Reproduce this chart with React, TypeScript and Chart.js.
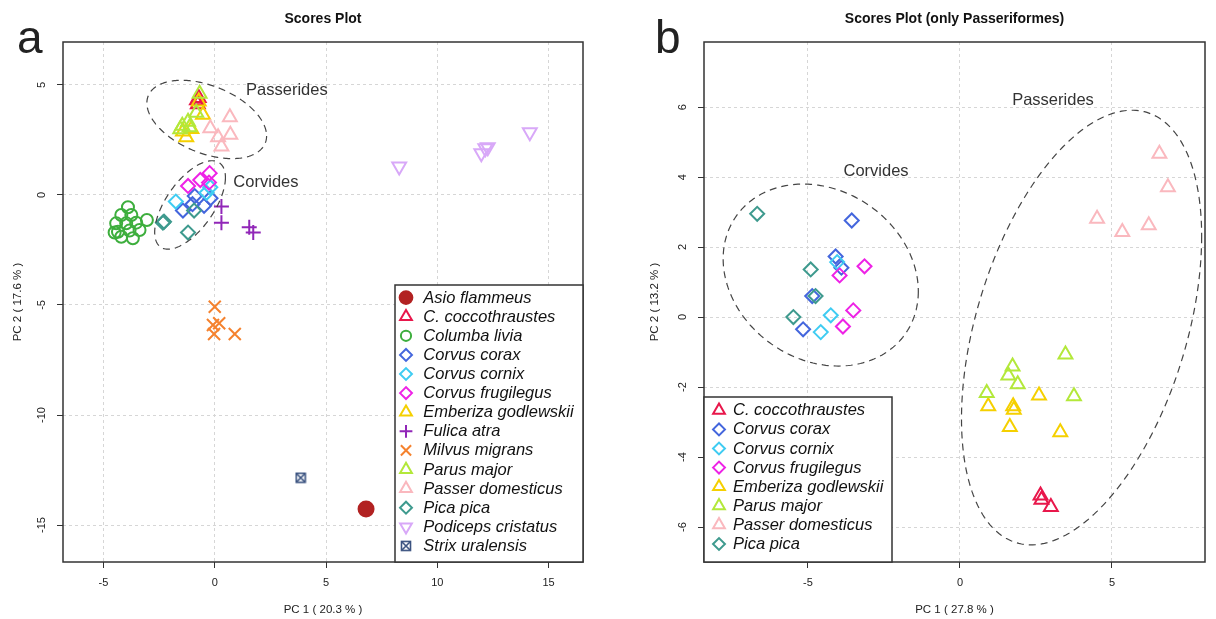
import React, { useEffect, useRef } from 'react';
import { Chart, registerables } from 'chart.js';
import { drawPoint } from 'chart.js/helpers';

Chart.register(...registerables);

const FONT = '"Liberation Sans", Arial, Helvetica, sans-serif';

type Pt = [number, number];

// ---------------- Panel a : all species ----------------
const A_X_TICKS = [-5, 0, 5, 10, 15];
const A_Y_TICKS = [-15, -10, -5, 0, 5];

const A_ASIO: Pt[] = [[6.8, -14.27]];
const A_COCCO: Pt[] = [[-0.8, 4.3], [-0.76, 4.12], [-0.72, 4.4]];
const A_COLUMBA: Pt[] = [
  [-3.9, -0.56], [-4.2, -0.91], [-3.75, -0.91], [-4.43, -1.29], [-3.98, -1.29],
  [-3.53, -1.26], [-3.05, -1.14], [-4.35, -1.67], [-3.83, -1.62], [-3.38, -1.59],
  [-4.2, -1.9], [-3.68, -1.97], [-4.5, -1.71],
];
const A_CORAX: Pt[] = [[-1.43, -0.71], [-0.9, -0.05], [-0.48, -0.49], [-0.19, -0.15], [-1.0, -0.42]];
const A_CORNIX: Pt[] = [[-1.75, -0.3], [-0.37, 0.1], [-0.2, 0.35]];
const A_FRUGI: Pt[] = [[-0.23, 0.99], [-0.26, 0.56], [-0.65, 0.68], [-1.2, 0.41]];
const A_EMBERIZA: Pt[] = [[-0.53, 3.64], [-1.43, 2.88], [-1.28, 2.62], [-0.72, 4.25], [-1.05, 3.0]];
const A_FULICA: Pt[] = [[0.3, -0.53], [0.3, -1.26], [1.55, -1.47], [1.73, -1.71]];
const A_MILVUS: Pt[] = [[0.0, -5.08], [-0.08, -5.91], [0.2, -5.83], [-0.03, -6.32], [0.9, -6.32]];
const A_PARUS: Pt[] = [[-0.68, 4.6], [-0.83, 3.74], [-1.2, 3.33], [-1.46, 3.14], [-1.55, 2.98], [-1.13, 3.08]];
const A_PASSER: Pt[] = [[0.68, 3.53], [-0.2, 3.03], [0.7, 2.73], [0.15, 2.62], [0.3, 2.2]];
const A_PICA: Pt[] = [[-2.33, -1.26], [-2.28, -1.22], [-0.93, -0.71], [-1.2, -1.71]];
const A_PODICEPS: Pt[] = [[8.29, 1.29], [11.98, 1.89], [12.16, 2.12], [12.27, 2.17], [14.16, 2.85]];
const A_STRIX: Pt[] = [[3.86, -12.85]];

// ---------------- Panel b : only Passeriformes ----------------
const B_X_TICKS = [-5, 0, 5];
const B_Y_TICKS = [-6, -4, -2, 0, 2, 4, 6];

const B_COCCO: Pt[] = [[2.65, -5.1], [2.68, -5.22], [2.99, -5.43]];
const B_CORAX: Pt[] = [[-3.56, 2.76], [-4.09, 1.73], [-3.9, 1.41], [-4.86, 0.6], [-5.16, -0.35]];
const B_CORNIX: Pt[] = [[-4.04, 1.57], [-4.25, 0.05], [-4.58, -0.43]];
const B_FRUGI: Pt[] = [[-3.14, 1.45], [-3.96, 1.19], [-3.51, 0.19], [-3.85, -0.27]];
const B_EMBERIZA: Pt[] = [[0.93, -2.55], [1.75, -2.55], [1.77, -2.65], [2.6, -2.24], [1.64, -3.14], [3.3, -3.29]];
const B_PARUS: Pt[] = [[3.47, -1.07], [1.73, -1.41], [1.59, -1.67], [1.9, -1.92], [0.88, -2.17], [3.75, -2.26]];
const B_PASSER: Pt[] = [[6.56, 4.67], [6.84, 3.71], [4.51, 2.81], [5.34, 2.43], [6.21, 2.62]];
const B_PICA: Pt[] = [[-6.67, 2.95], [-4.91, 1.36], [-4.75, 0.6], [-5.48, 0.0]];

// ---------------- styles ----------------
type Sty = { color: string; shape: string; r: number; fill?: boolean; rot?: number };
const STYLE: Record<string, Sty> = {
  'Asio flammeus': { color: '#B22222', shape: 'circle', r: 7.5, fill: true },
  'C. coccothraustes': { color: '#E8174B', shape: 'triangle', r: 8 },
  'Columba livia': { color: '#3DAE3D', shape: 'circle', r: 6 },
  'Corvus corax': { color: '#4466DD', shape: 'rectRot', r: 7 },
  'Corvus cornix': { color: '#3FCCF2', shape: 'rectRot', r: 7 },
  'Corvus frugilegus': { color: '#EE22E6', shape: 'rectRot', r: 7 },
  'Emberiza godlewskii': { color: '#F5D000', shape: 'triangle', r: 8 },
  'Fulica atra': { color: '#9126B8', shape: 'cross', r: 7.5 },
  'Milvus migrans': { color: '#F5822E', shape: 'crossRot', r: 8.5 },
  'Parus major': { color: '#B3E83A', shape: 'triangle', r: 8 },
  'Passer domesticus': { color: '#FAB8BE', shape: 'triangle', r: 8 },
  'Pica pica': { color: '#3E9A8E', shape: 'rectRot', r: 7 },
  'Podiceps cristatus': { color: '#D8A8F8', shape: 'triangle', r: 8, rot: 180 },
  'Strix uralensis': { color: '#3B5380', shape: 'strix', r: 6 },
};

let strixImg: HTMLCanvasElement | null = null;
function getStrix() {
  if (strixImg) return strixImg;
  const c = document.createElement('canvas');
  c.width = 12; c.height = 12;
  const g = c.getContext('2d')!;
  g.strokeStyle = STYLE['Strix uralensis'].color;
  g.lineWidth = 1.6;
  g.strokeRect(1.5, 1.5, 9, 9);
  g.beginPath();
  g.moveTo(1.5, 1.5); g.lineTo(10.5, 10.5);
  g.moveTo(10.5, 1.5); g.lineTo(1.5, 10.5);
  g.stroke();
  strixImg = c;
  return c;
}

type Ell = { cx: number; ax: number; cy: number; ay: number; c: number };
type Lab = { text: string; x: number; y: number };

type PanelCfg = {
  series: [string, Pt[]][];
  xTicks: number[]; yTicks: number[];
  xMin: number; xMax: number; yMin: number; yMax: number;
  axisLeft: number; padRight: number;
  title: string; letter: string; letterX: number;
  xTitle: string; yTitle: string; yTitleOff: number;
  ellipses: Ell[]; labels: Lab[];
  legend: { corner: 'br' | 'bl'; w: number; h: number; first: number; symX: number; textX: number };
};

const PANEL_A: PanelCfg = {
  series: [
    ['Asio flammeus', A_ASIO], ['C. coccothraustes', A_COCCO], ['Columba livia', A_COLUMBA],
    ['Corvus corax', A_CORAX], ['Corvus cornix', A_CORNIX], ['Corvus frugilegus', A_FRUGI],
    ['Emberiza godlewskii', A_EMBERIZA], ['Fulica atra', A_FULICA], ['Milvus migrans', A_MILVUS],
    ['Parus major', A_PARUS], ['Passer domesticus', A_PASSER], ['Pica pica', A_PICA],
    ['Podiceps cristatus', A_PODICEPS], ['Strix uralensis', A_STRIX],
  ],
  xTicks: A_X_TICKS, yTicks: A_Y_TICKS,
  xMin: -6.82, xMax: 16.55, yMin: -16.68, yMax: 6.95,
  axisLeft: 63, padRight: 25,
  title: 'Scores Plot', letter: 'a', letterX: 17,
  xTitle: 'PC 1 ( 20.3 % )', yTitle: 'PC 2 ( 17.6 % )', yTitleOff: 45,
  ellipses: [
    { cx: -0.36, ax: 2.69, cy: 3.43, ay: 1.78, c: -0.42 },
    { cx: -1.11, ax: 1.59, cy: -0.455, ay: 2.01, c: 0.62 },
  ],
  labels: [
    { text: 'Passerides', x: 3.24, y: 4.73 },
    { text: 'Corvides', x: 2.3, y: 0.55 },
  ],
  legend: { corner: 'br', w: 188, h: 277, first: 12.6, symX: 11, textX: 28.3 },
};

const PANEL_B: PanelCfg = {
  series: [
    ['C. coccothraustes', B_COCCO], ['Corvus corax', B_CORAX], ['Corvus cornix', B_CORNIX],
    ['Corvus frugilegus', B_FRUGI], ['Emberiza godlewskii', B_EMBERIZA], ['Parus major', B_PARUS],
    ['Passer domesticus', B_PASSER], ['Pica pica', B_PICA],
  ],
  xTicks: B_X_TICKS, yTicks: B_Y_TICKS,
  xMin: -8.42, xMax: 8.06, yMin: -7.0, yMax: 7.86,
  axisLeft: 96, padRight: 11,
  title: 'Scores Plot (only Passeriformes)', letter: 'b', letterX: 47,
  xTitle: 'PC 1 ( 27.8 % )', yTitle: 'PC 2 ( 13.2 % )', yTitleOff: 49,
  ellipses: [
    { cx: -4.58, ax: 3.21, cy: 1.2, ay: 2.6, c: -0.18 },
    { cx: 4.0, ax: 3.95, cy: -0.3, ay: 6.21, c: 0.42 },
  ],
  labels: [
    { text: 'Passerides', x: 3.06, y: 6.2 },
    { text: 'Corvides', x: -2.76, y: 4.17 },
  ],
  legend: { corner: 'bl', w: 188, h: 165, first: 13.3, symX: 15, textX: 29 },
};

function makeOverlay(cfg: PanelCfg) {
  return {
    id: 'overlay',
    afterDatasetsDraw(chart: any) {
      const ctx: CanvasRenderingContext2D = chart.ctx;
      const { left, right, top, bottom } = chart.chartArea;
      const xs = chart.scales.x;
      const ys = chart.scales.y;
      ctx.save();
      // group ellipses
      ctx.setLineDash([7, 5]);
      ctx.lineWidth = 1.2;
      ctx.strokeStyle = '#444';
      for (const e of cfg.ellipses) {
        const phi = Math.acos(e.c);
        ctx.beginPath();
        for (let i = 0; i <= 240; i++) {
          const t = (i / 240) * 2 * Math.PI;
          const px = xs.getPixelForValue(e.cx + e.ax * Math.cos(t));
          const py = ys.getPixelForValue(e.cy + e.ay * Math.cos(t + phi));
          if (i === 0) ctx.moveTo(px, py); else ctx.lineTo(px, py);
        }
        ctx.closePath();
        ctx.stroke();
      }
      ctx.setLineDash([]);
      // group labels
      ctx.font = `16.5px ${FONT}`;
      ctx.fillStyle = '#333';
      ctx.textAlign = 'center';
      ctx.textBaseline = 'middle';
      for (const l of cfg.labels) {
        ctx.fillText(l.text, xs.getPixelForValue(l.x), ys.getPixelForValue(l.y));
      }
      // plot box
      ctx.lineWidth = 1.5;
      ctx.strokeStyle = '#333';
      ctx.strokeRect(left, top, right - left, bottom - top);
      // legend
      const L = cfg.legend;
      const x0 = L.corner === 'br' ? right - L.w : left;
      const y0 = bottom - L.h;
      ctx.fillStyle = '#fff';
      ctx.fillRect(x0, y0, L.w, L.h);
      ctx.strokeRect(x0, y0, L.w, L.h);
      ctx.font = `italic 16.5px ${FONT}`;
      ctx.textAlign = 'left';
      cfg.series.forEach(([name], i) => {
        const s = STYLE[name];
        const cy = y0 + L.first + i * 19.1;
        const cx = x0 + L.symX;
        ctx.save();
        ctx.strokeStyle = s.color;
        ctx.fillStyle = s.fill ? s.color : 'rgba(0,0,0,0)';
        ctx.lineWidth = 2;
        drawPoint(ctx, {
          pointStyle: s.shape === 'strix' ? getStrix() : s.shape,
          radius: s.r * 0.85,
          rotation: s.rot || 0,
          borderWidth: 2,
        } as any, cx, cy);
        ctx.restore();
        ctx.fillStyle = '#111';
        ctx.fillText(name, x0 + L.textX, cy + 0.5);
      });
      // y tick labels (rotated, R style)
      ctx.font = `11px ${FONT}`;
      ctx.fillStyle = '#222';
      ctx.textAlign = 'center';
      ctx.textBaseline = 'middle';
      for (const v of cfg.yTicks) {
        const py = ys.getPixelForValue(v);
        ctx.save();
        ctx.translate(left - 21, py);
        ctx.rotate(-Math.PI / 2);
        ctx.fillText(String(v), 0, 0);
        ctx.restore();
      }
      // axis titles
      ctx.font = `11.5px ${FONT}`;
      ctx.fillText(cfg.xTitle, (left + right) / 2, bottom + 48);
      ctx.save();
      ctx.translate(left - cfg.yTitleOff, (top + bottom) / 2);
      ctx.rotate(-Math.PI / 2);
      ctx.fillText(cfg.yTitle, 0, 0);
      ctx.restore();
      // main title
      ctx.font = `bold 14px ${FONT}`;
      ctx.fillStyle = '#111';
      ctx.fillText(cfg.title, (left + right) / 2, 19);
      // panel letter
      ctx.font = `46px ${FONT}`;
      ctx.textAlign = 'left';
      ctx.textBaseline = 'alphabetic';
      ctx.fillStyle = '#222';
      ctx.fillText(cfg.letter, cfg.letterX, 53);
      ctx.restore();
    },
  };
}

function Panel({ cfg }: { cfg: PanelCfg }) {
  const ref = useRef<HTMLCanvasElement>(null);
  useEffect(() => {
    const n = cfg.series.length;
    const datasets = cfg.series.map(([name, pts], i) => {
      const s = STYLE[name];
      return {
        label: name,
        data: pts.map(([x, y]) => ({ x, y })),
        pointStyle: s.shape === 'strix' ? getStrix() : s.shape,
        pointRadius: s.r,
        pointBorderWidth: 2,
        pointBorderColor: s.color,
        pointBackgroundColor: s.fill ? s.color : 'rgba(0,0,0,0)',
        pointRotation: s.rot || 0,
        order: n - i,
      };
    });
    const gridCommon = {
      color: '#d6d6d6',
      lineWidth: 1,
      tickColor: '#333',
      tickLength: 6,
      tickWidth: 1,
    };
    const chart = new Chart(ref.current!, {
      type: 'scatter',
      data: { datasets: datasets as any },
      plugins: [makeOverlay(cfg)],
      options: {
        animation: false,
        responsive: false,
        devicePixelRatio: 1,
        events: [],
        layout: { padding: { left: 0, right: cfg.padRight, top: 42, bottom: 0 } },
        plugins: { legend: { display: false }, tooltip: { enabled: false }, title: { display: false } },
        scales: {
          x: {
            type: 'linear',
            min: cfg.xMin,
            max: cfg.xMax,
            afterBuildTicks: (s: any) => { s.ticks = cfg.xTicks.map((v) => ({ value: v })); },
            afterFit: (s: any) => { s.height = 57; },
            ticks: {
              font: { family: FONT, size: 11 },
              color: '#222',
              padding: 8,
              maxRotation: 0,
              autoSkip: false,
              callback: (v: any) => String(v),
            },
            grid: gridCommon as any,
            border: { display: false, dash: [3, 3] } as any,
          },
          y: {
            type: 'linear',
            min: cfg.yMin,
            max: cfg.yMax,
            afterBuildTicks: (s: any) => { s.ticks = cfg.yTicks.map((v) => ({ value: v })); },
            afterFit: (s: any) => { s.width = cfg.axisLeft; },
            ticks: {
              font: { family: FONT, size: 11 },
              color: 'rgba(0,0,0,0)',
              autoSkip: false,
              callback: (v: any) => String(v),
            },
            grid: gridCommon as any,
            border: { display: false, dash: [3, 3] } as any,
          },
        },
      } as any,
    });
    return () => chart.destroy();
  }, [cfg]);
  return <canvas ref={ref} width={608} height={619} style={{ display: 'block', width: 608, height: 619 }} />;
}

export default function App() {
  return (
    <div style={{ position: 'fixed', left: 0, top: 0, width: 1216, height: 619, display: 'flex', background: '#fff' }}>
      <Panel cfg={PANEL_A} />
      <Panel cfg={PANEL_B} />
    </div>
  );
}
